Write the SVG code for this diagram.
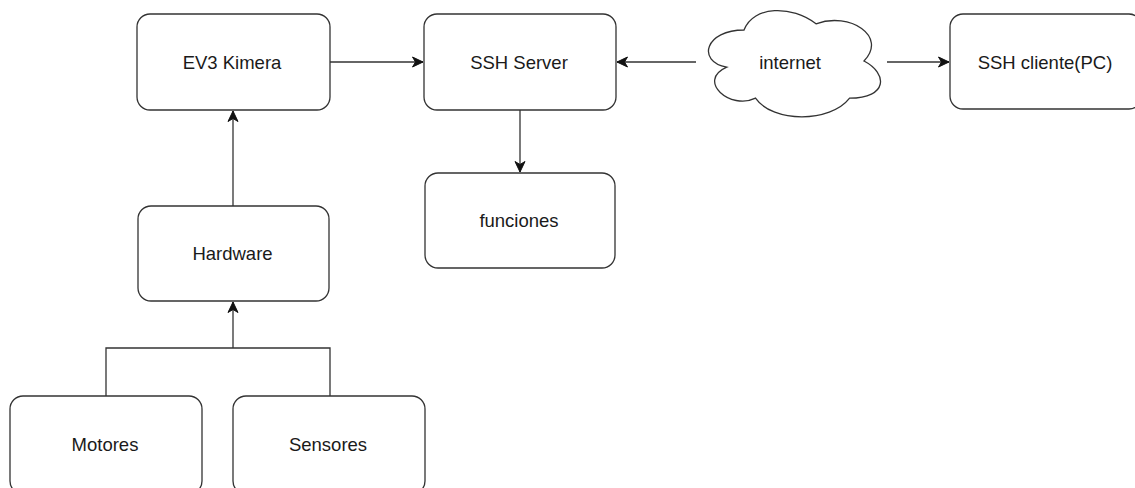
<svg xmlns="http://www.w3.org/2000/svg" width="1135" height="488" viewBox="0 0 1135 488">
<defs>
<marker id="arr" markerWidth="13" markerHeight="13" refX="11" refY="6.5" orient="auto" markerUnits="userSpaceOnUse">
<path d="M0.5,1.5 L11,6.5 L0.5,11.5 L3.5,6.5 Z" fill="#111" stroke="#111" stroke-width="1"/>
</marker>
<style>
.box{fill:#fff;stroke:#333;stroke-width:1.3}
.lbl{font-family:"Liberation Sans",Arial,sans-serif;font-size:18.5px;fill:#1a1a1a;text-anchor:middle}
.edge{fill:none;stroke:#333;stroke-width:1.3}
</style>
</defs>
<rect width="1135" height="488" fill="#fff"/>
<g id="connectors">
<path class="edge" d="M330,62 L423,62" marker-end="url(#arr)"/>
<path class="edge" d="M696,62 L617,62" marker-end="url(#arr)"/>
<path class="edge" d="M887,62 L949,62" marker-end="url(#arr)"/>
<path class="edge" d="M520,110 L520,172" marker-end="url(#arr)"/>
<path class="edge" d="M233,206 L233,111" marker-end="url(#arr)"/>
<path class="edge" d="M106,396 L106,348 L330,348 L330,396"/>
<path class="edge" d="M233,348 L233,302" marker-end="url(#arr)"/>
</g>
<g id="ev3">
<rect class="box" x="137" y="14" width="193" height="96" rx="13"/>
<text class="lbl" x="232" y="69">EV3 Kimera</text>
</g>
<g id="ssh-server">
<rect class="box" x="424" y="14" width="192" height="96" rx="13"/>
<text class="lbl" x="519" y="69">SSH Server</text>
</g>
<g id="internet">
<path class="box" transform="translate(696,-1) scale(192,124)" vector-effect="non-scaling-stroke" d="M0.25,0.25 C0.05,0.25 0,0.5 0.16,0.55 C0,0.66 0.18,0.9 0.31,0.8 C0.4,1 0.7,1 0.8,0.8 C1,0.8 1,0.6 0.875,0.5 C1,0.3 0.8,0.1 0.625,0.2 C0.5,0.05 0.3,0.05 0.25,0.25 Z"/>
<text class="lbl" x="790" y="69">internet</text>
</g>
<g id="ssh-cliente">
<rect class="box" x="950" y="14" width="192" height="95" rx="13"/>
<text class="lbl" x="1045" y="69">SSH cliente(PC)</text>
</g>
<g id="funciones">
<rect class="box" x="425" y="173" width="190" height="95" rx="13"/>
<text class="lbl" x="519" y="227">funciones</text>
</g>
<g id="hardware">
<rect class="box" x="138" y="206" width="191" height="95" rx="13"/>
<text class="lbl" x="232.5" y="260">Hardware</text>
</g>
<g id="motores">
<rect class="box" x="10" y="396" width="192" height="98" rx="13"/>
<text class="lbl" x="105" y="451">Motores</text>
</g>
<g id="sensores">
<rect class="box" x="233" y="396" width="192" height="98" rx="13"/>
<text class="lbl" x="328" y="451">Sensores</text>
</g>
</svg>
